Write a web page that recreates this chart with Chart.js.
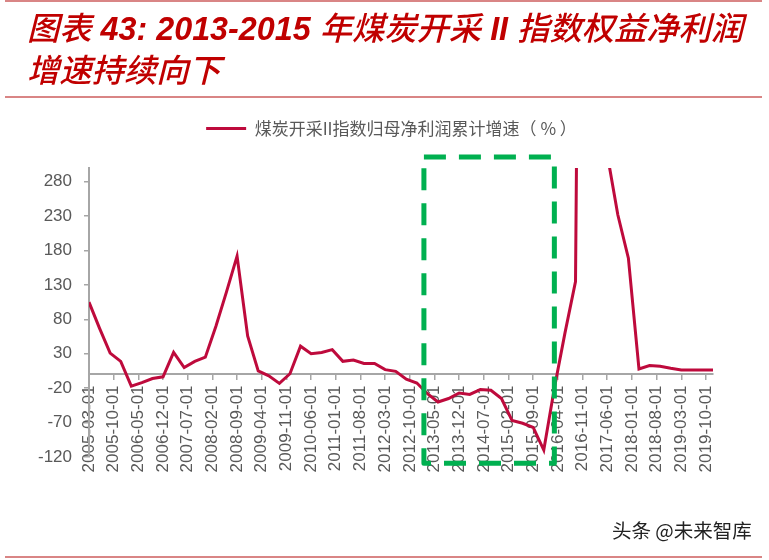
<!DOCTYPE html>
<html>
<head>
<meta charset="utf-8">
<script src="https://cdn.jsdelivr.net/npm/chart.js@4.4.0/dist/chart.umd.min.js"></script>
<style>
  html, body { margin: 0; padding: 0; background: #fff; }
  #wrap { position: relative; width: 769px; height: 560px; overflow: hidden; }
  #myChart { position: absolute; left: 0; top: 0; }
  .rule { position: absolute; left: 5px; width: 757px; height: 2px; background: #d98585; }
  #title {
    position: absolute; left: 27px; top: 8px; width: 742px;
    font-family: "Liberation Sans", "Noto Sans CJK SC", sans-serif;
    font-size: 32.3px; line-height: 42px; font-weight: 500; font-style: italic;
    color: #c00000; white-space: nowrap;
  }
  #title b { font-weight: bold; }
  #mark {
    position: absolute; left: 612px; top: 515px;
    font-family: "Noto Sans CJK SC", sans-serif; font-size: 19.5px; color: #222;
  }
</style>
</head>
<body>
<div id="wrap">
  <canvas id="myChart" width="769" height="560"></canvas>
  <div class="rule" style="top:0px"></div>
  <div id="title">图表<b> 43: 2013-2015 </b>年煤炭开采<b> II </b>指数权益净利润<br>增速持续向下</div>
  <div class="rule" style="top:96px"></div>
  <div id="mark">头条 @未来智库</div>
  <div class="rule" style="top:556px"></div>
</div>
<script>
// quarterly report dates
const quarters = [
  "2005-03", "2005-06", "2005-09", "2005-12",
  "2006-03", "2006-06", "2006-09", "2006-12",
  "2007-03", "2007-06", "2007-09", "2007-12",
  "2008-03", "2008-06", "2008-09", "2008-12",
  "2009-03", "2009-06", "2009-09", "2009-12",
  "2010-03", "2010-06", "2010-09", "2010-12",
  "2011-03", "2011-06", "2011-09", "2011-12",
  "2012-03", "2012-06", "2012-09", "2012-12",
  "2013-03", "2013-06", "2013-09", "2013-12",
  "2014-03", "2014-06", "2014-09", "2014-12",
  "2015-03", "2015-06", "2015-09", "2015-12",
  "2016-03", "2016-06", "2016-09", "2016-12",
  "2017-03", "2017-06", "2017-09", "2017-12",
  "2018-03", "2018-06", "2018-09", "2018-12",
  "2019-03", "2019-06", "2019-09", "2019-12",
];

// 煤炭开采II指数归母净利润累计增速 (%)
const growth = [
  105, 67, 31, 19,
  -17, -12, -6, -3.5,
  32, 10, 19, 25,
  70, 120, 172, 56,
  5, -2, -13, 1,
  41, 30, 32, 36,
  19, 21, 16, 16,
  7, 4.5, -7, -12.5,
  -28, -40, -35, -27,
  -29, -22, -23, -35,
  -67, -71, -77, -110,
  -20, 60, 135, 2000,
  1000, 320, 232, 169,
  8, 13, 12, 9,
  6.5, 6.5, 6.5, 6.5,
];

const xTickLabels = [
  "2005-03-01", "2005-10-01", "2006-05-01", "2006-12-01", "2007-07-01",
  "2008-02-01", "2008-09-01", "2009-04-01", "2009-11-01", "2010-06-01",
  "2011-01-01", "2011-08-01", "2012-03-01", "2012-10-01", "2013-05-01",
  "2013-12-01", "2014-07-01", "2015-02-01", "2015-09-01", "2016-04-01",
  "2016-11-01", "2017-06-01", "2018-01-01", "2018-08-01", "2019-03-01",
  "2019-10-01",
];
const yTicks = [-120, -70, -20, 30, 80, 130, 180, 230, 280];

// green dashed highlight box (2013-2015), in axis units
const boxFrom = "2013-02", boxTo = "2016-03";
const boxTop = 316, boxBottom = -129;

const LINE_COLOR = "#be0a3c";
const AXIS_GRAY = "#a6a6a6";
const TEXT_GRAY = "#595959";

// months since 2005-03
function monthIndex(s) {
  const y = parseInt(s.slice(0, 4), 10);
  const m = parseInt(s.slice(5, 7), 10);
  return (y - 2005) * 12 + (m - 3);
}

const points = quarters.map((q, i) => ({ x: monthIndex(q), y: growth[i] }));

const highlightBox = {
  id: "highlightBox",
  afterDraw(chart) {
    const { ctx, scales } = chart;
    const x1 = scales.x.getPixelForValue(monthIndex(boxFrom));
    const x2 = scales.x.getPixelForValue(monthIndex(boxTo));
    const y1 = scales.y.getPixelForValue(boxTop);
    const y2 = scales.y.getPixelForValue(boxBottom);
    ctx.save();
    ctx.strokeStyle = "#00b050";
    ctx.lineWidth = 5;
    ctx.lineJoin = "round";
    ctx.setLineDash([22, 13]);
    ctx.strokeRect(x1, y1, x2 - x1, y2 - y1);
    ctx.restore();
  },
};

// extra room between legend and plot, legend nudged right like the original
const legendTweak = {
  id: "legendTweak",
  beforeInit(chart) {
    const fit = chart.legend.fit;
    chart.legend.fit = function () {
      fit.bind(chart.legend)();
      this.height += 21;
    };
  },
  afterLayout(chart) {
    chart.legend.left += 35;
    chart.legend.right += 35;
  },
};

const ctx = document.getElementById("myChart").getContext("2d");

const myChart = new Chart(ctx, {
  type: "line",
  data: {
    datasets: [
      {
        label: "煤炭开采II指数归母净利润累计增速（ % ）",
        data: points,
        borderColor: LINE_COLOR,
        backgroundColor: LINE_COLOR,
        borderWidth: 3,
        pointRadius: 0,
        tension: 0,
      },
    ],
  },
  options: {
    responsive: false,
    animation: false,
    layout: { padding: { top: 110, right: 56, bottom: 103, left: 0 } },
    plugins: {
      tooltip: { enabled: false },
      legend: {
        labels: {
          usePointStyle: true,
          pointStyle: "line",
          pointStyleWidth: 40,
          color: TEXT_GRAY,
          padding: 10,
          font: { family: "'Noto Sans CJK SC', sans-serif", size: 17 },
        },
      },
    },
    scales: {
      x: {
        type: "linear",
        position: { y: 0 },
        min: 0,
        max: monthIndex("2019-12"),
        afterBuildTicks: (axis) => {
          axis.ticks = xTickLabels.map((t) => ({ value: monthIndex(t) }));
        },
        afterFit: (axis) => {
          axis.height = 0;
        },
        ticks: {
          autoSkip: false,
          minRotation: 90,
          maxRotation: 90,
          padding: 6,
          color: TEXT_GRAY,
          font: { family: "'Liberation Sans', Arial, sans-serif", size: 17 },
          callback: (value, index) => xTickLabels[index],
        },
        grid: {
          drawOnChartArea: false,
          tickLength: 5,
          color: AXIS_GRAY,
          lineWidth: 1.5,
        },
        border: { color: AXIS_GRAY, width: 2 },
      },
      y: {
        min: -120,
        max: 300,
        afterBuildTicks: (axis) => {
          axis.ticks = yTicks.map((v) => ({ value: v }));
        },
        afterFit: (axis) => {
          axis.width = 89;
        },
        ticks: {
          padding: 12,
          color: TEXT_GRAY,
          font: { family: "'Liberation Sans', Arial, sans-serif", size: 17 },
        },
        grid: {
          drawOnChartArea: false,
          tickLength: 5,
          color: AXIS_GRAY,
          lineWidth: 1.5,
        },
        border: { color: AXIS_GRAY, width: 2 },
      },
    },
  },
  plugins: [highlightBox, legendTweak],
});
</script>
</body>
</html>
